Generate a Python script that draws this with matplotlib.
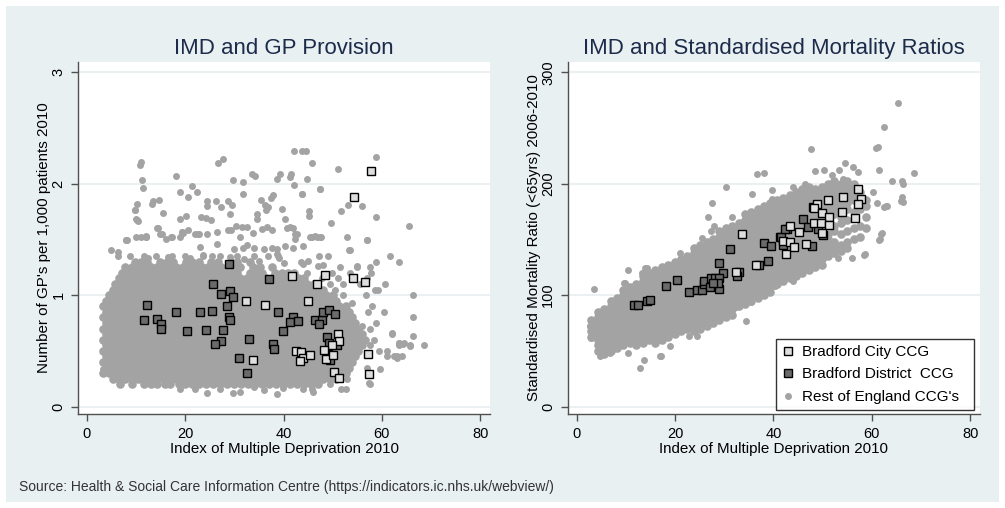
import matplotlib.pyplot as plt
from matplotlib import font_manager
from matplotlib.patches import Rectangle

# ---------------- data ----------------
# Left panel: IMD 2010 vs GPs per 1,000 patients
city_gp_x = [57.7, 54.3, 41.8, 48.4, 46.7, 54.1, 56.5, 32.3, 36.3, 44.9, 51.1, 51.3, 49.8,
             48.3, 42.6, 43.5, 44.0, 43.3, 45.4, 48.6, 50.0, 33.8, 50.3, 51.3, 57.2, 57.3]
city_gp_y = [2.11, 1.88, 1.17, 1.18, 1.10, 1.15, 1.12, 0.95, 0.91, 0.95, 0.65, 0.59, 0.55,
             0.51, 0.50, 0.49, 0.44, 0.41, 0.46, 0.43, 0.46, 0.42, 0.31, 0.26, 0.47, 0.29]
dist_gp_x = [28.9, 37.1, 25.7, 27.3, 29.0, 29.7, 12.2, 18.1, 22.9, 25.4, 28.4, 28.9, 29.0, 11.7,
             14.3, 15.1, 15.1, 20.3, 24.3, 27.7, 27.2, 26.0, 33.0, 38.8, 39.8, 37.9, 38.1, 31.0,
             32.6, 41.9, 41.4, 42.9, 46.3, 47.8, 47.2, 48.1, 49.2, 50.4, 48.9, 49.2, 50.9, 49.1, 49.4]
dist_gp_y = [1.28, 1.14, 1.10, 1.01, 1.04, 0.98, 0.91, 0.85, 0.85, 0.86, 0.90, 0.80, 0.78, 0.78,
             0.79, 0.74, 0.70, 0.68, 0.69, 0.69, 0.59, 0.56, 0.61, 0.85, 0.68, 0.56, 0.52, 0.44,
             0.30, 0.80, 0.76, 0.77, 0.78, 0.78, 0.74, 0.85, 0.87, 0.83, 0.62, 0.57, 0.55, 0.47, 0.42]

# rest of England: the dense core, row by row (GPs per 1,000, IMD values)
gp_rest_rows = [
    (0.20, "6.7 9.1 11.5 13 14.3 15.8 16.9 18.7 20 21.4 22.8 24.3 25.6 27.1 28.5 30 31.3 32.8 34.2 35.6 37.1 38.4 39.9 41.3 42.7 44.2 45.6 47.1"),
    (0.25, "5.2 6.5 7.8 9.1 10.4 11.7 13 14.3 15.6 16.9 18.2 19.5 20.8 22.1 23.4 24.7 26 27.3 28.6 29.9 31.2 32.5 33.8 35.1 36.4 37.7 39 40.3 41.6 42.9 44.2 45.5 46.8 48.1 49.4 50.7"),
    (0.30, "3.2 4.5 5.8 7.1 8.4 9.7 11 12.3 13.6 14.9 16.2 17.5 18.8 20.1 21.4 22.7 24 25.3 26.6 27.9 29.2 30.5 31.8 33.1 34.4 35.7 37 38.3 39.6 40.9 42.2 43.5 44.8 46.1 47.4 48.7 50 51.3 52.6"),
    (0.35, "3.9 5.2 6.5 7.8 9.1 10.4 11.7 13 14.3 15.6 16.9 18.2 19.5 20.8 22.1 23.4 24.7 26 27.3 28.6 29.9 31.2 32.5 33.8 35.1 36.4 37.7 39 40.3 41.6 42.9 44.2 45.5 46.8 48.1 49.4 50.7 52 53.3"),
    (0.40, "3.2 4.5 5.8 7.1 8.4 9.7 11 12.3 13.6 14.9 16.2 17.5 18.8 20.1 21.4 22.7 24 25.3 26.6 27.9 29.2 30.5 31.8 33.1 34.4 35.7 37 38.3 39.6 40.9 42.2 43.5 44.8 46.1 47.4 48.7 50 51.3 52.6 53.9"),
    (0.45, "3.9 5.2 6.5 7.8 9.1 10.4 11.7 13 14.3 15.6 16.9 18.2 19.5 20.8 22.1 23.4 24.7 26 27.3 28.6 29.9 31.2 32.5 33.8 35.1 36.4 37.7 39 40.3 41.6 42.9 44.2 45.5 46.8 48.1 49.4 50.7 52 53.3 54.6"),
    (0.50, "3.2 4.5 5.8 7.1 8.4 9.7 11 12.3 13.6 14.9 16.2 17.5 18.8 20.1 21.4 22.7 24 25.3 26.6 27.9 29.2 30.5 31.8 33.1 34.4 35.7 37 38.3 39.6 40.9 42.2 43.5 44.8 46.1 47.4 48.7 50 51.3 52.6 53.9 55.2"),
    (0.55, "3.9 5.2 6.5 7.8 9.1 10.4 11.7 13 14.3 15.6 16.9 18.2 19.5 20.8 22.1 23.4 24.7 26 27.3 28.6 29.9 31.2 32.5 33.8 35.1 36.4 37.7 39 40.3 41.6 42.9 44.2 45.5 46.8 48.1 49.4 50.7 52 53.3 54.6 55.9"),
    (0.60, "3.2 4.5 5.8 7.1 8.4 9.7 11 12.3 13.6 14.9 16.2 17.5 18.8 20.1 21.4 22.7 24 25.3 26.6 27.9 29.2 30.5 31.8 33.1 34.4 35.7 37 38.3 39.6 40.9 42.2 43.5 44.8 46.1 47.4 48.7 50 51.3 52.6 53.9 55.2 56.5"),
    (0.65, "3.9 5.2 6.5 7.8 9.1 10.4 11.7 13 14.3 15.6 16.9 18.2 19.5 20.8 22.1 23.4 24.7 26 27.3 28.6 29.9 31.2 32.5 33.8 35.1 36.4 37.7 39 40.3 41.6 42.9 44.2 45.5 46.8 48.1 49.4 50.7 52 53.3 54.6 55.9"),
    (0.70, "3.2 4.5 5.8 7.1 8.4 9.7 11 12.3 13.6 14.9 16.2 17.5 18.8 20.1 21.4 22.7 24 25.3 26.6 27.9 29.2 30.5 31.8 33.1 34.4 35.7 37 38.3 39.6 40.9 42.2 43.5 44.8 46.1 47.4 48.7 50 51.3 52.6 53.9 55.2"),
    (0.75, "3.9 5.2 6.5 7.8 9.1 10.4 11.7 13 14.3 15.6 16.9 18.2 19.5 20.8 22.1 23.4 24.7 26 27.3 28.6 29.9 31.2 32.5 33.8 35.1 36.4 37.7 39 40.3 41.6 42.9 44.2 45.5 46.8 48.1 49.4 50.7 52 53.3 54.6"),
    (0.80, "3.2 4.5 5.8 7.1 8.4 9.7 11 12.3 13.6 14.9 16.2 17.5 18.8 20.1 21.4 22.7 24 25.3 26.6 27.9 29.2 30.5 31.8 33.1 34.4 35.7 37 38.3 39.6 40.9 42.2 43.5 44.8 46.1 47.4 48.7 50 51.3 52.6 53.9"),
    (0.85, "3.9 5.2 6.5 7.8 9.1 10.4 11.7 13 14.3 15.6 16.9 18.2 19.5 20.8 22.1 23.4 24.7 26 27.3 28.6 29.9 31.2 32.5 33.8 35.1 36.4 37.7 39 40.3 41.6 42.9 44.2 45.5 46.8 48.1 49.4 50.7 52 53.3"),
    (0.90, "3.2 4.5 5.8 7.1 8.4 9.7 11 12.3 13.6 14.9 16.2 17.5 18.8 20.1 21.4 22.7 24 25.3 26.6 27.9 29.2 30.5 31.8 33.1 34.4 35.7 37 38.3 39.6 40.9 42.2 43.5 44.8 46.1 47.4 48.7 50 51.3 52.6"),
    (0.95, "3.9 5.2 6.5 7.8 9.1 10.4 11.7 13 14.3 15.6 16.9 18.2 19.5 20.8 22.1 23.4 24.7 26 27.3 28.6 29.9 31.2 32.5 33.8 35.1 36.4 37.7 39 40.3 41.6 42.9 44.2 45.5 46.8 48.1 49.4 50.7"),
    (1.00, "4.5 5.8 7.1 8.4 9.7 11 12.3 13.6 14.9 16.2 17.5 18.8 20.1 21.4 22.7 24 25.3 26.6 27.9 29.2 30.5 31.8 33.1 34.4 35.7 37 38.3 39.6 40.9 42.2 43.5 44.8 46.1 47.4 48.7 50"),
    (1.05, "5.2 6.5 7.8 9.1 10.4 11.7 13 14.3 15.6 16.9 18.2 19.5 20.8 22.1 23.4 24.7 26 27.3 28.6 29.9 31.2 32.5 33.8 35.1 36.4 37.7 39 40.3 41.6 42.9 44.2 45.5 46.8 48.1"),
    (1.10, "5.8 7.1 8.4 9.7 11 12.3 13.6 14.9 16.2 17.5 18.8 20.1 21.4 22.7 24 25.3 26.6 27.9 29.2 30.5 31.8 33.1 34.4 35.7 37 38.3 39.6 40.9 42.2 43.5 44.8 46.1"),
    (1.15, "6.5 7.8 9.1 10.4 11.7 13 14.3 15.6 16.9 18.2 19.5 20.8 22.1 23.4 24.7 26 27.3 28.6 29.9 31.2 32.5 33.8 35.1 36.4 37.7 39 40.3 41.6 42.9 44.2"),
    (1.20, "7.1 8.4 9.7 11 12.3 13.6 14.9 16.2 17.5 18.8 20.1 21.4 22.7 24 25.3 26.6 27.9 29.2 30.5 33.1 34.4 35.7 38.3 39.6 40.9 42.2"),
    (1.25, "7.8 9.1 10.4 11.7 13 14.3 15.6 16.9 18.2 19.5 20.8 22.1 23.4 24.7 26 27.3 28.6 29.9 31.2 33.8 35.1 37.7"),
    (1.30, "9.7 11 12.3 14.9 16.2 17.5 20.1 21.4 22.7 25.3 26.6 29.2 30.5 33.1"),
]
# rest of England: scattered practices round the core
gp_rest_extra_x = [10.7, 11.0, 11.2, 11.4, 10.1, 9.7, 10.0, 10.3, 8.0, 9.9, 11.0, 12.1, 13.3, 14.7,
                   15.5, 14.5, 14.9, 17.0, 18.1, 19.0, 21.3, 22.3, 20.6, 18.9, 20.1, 19.4, 20.6,
                   22.6, 23.2, 24.3, 25.3, 24.4, 24.4, 26.2, 27.2, 26.7, 27.7, 28.7, 29.5, 29.1,
                   29.7, 31.7, 31.7, 26.5, 28.7, 29.4, 30.3, 31.5, 32.5, 31.1, 33.6, 34.2, 34.5,
                   34.5, 33.8, 35.4, 36.2, 36.5, 37.4, 37.8, 36.9, 38.7, 39.6, 40.3, 40.6, 42.0,
                   42.3, 39.3, 41.3, 41.6, 42.1, 42.2, 43.7, 44.5, 45.7, 44.7, 43.7, 45.2, 45.2,
                   45.4, 46.4, 47.4, 44.0, 47.5, 49.6, 51.1, 51.7, 53.2, 55.9, 53.0, 57.0, 58.8,
                   58.8, 65.5, 4.8, 6.3, 8.0, 12.0, 16.0, 19.5, 22.0, 24.5, 53.5, 55.0, 57.0,
                   62.0, 63.4, 66.4, 64.6, 63.4, 64.3, 65.8, 61.0, 62.5, 63.1, 64.1, 59.7, 57.3,
                   3.3, 3.4, 4.6, 41.3, 42.7, 42.3, 45.7, 46.7, 47.6, 40.2, 42.0, 37.6, 38.6,
                   53.4, 26.5, 23.0, 23.7, 29.9, 31.8, 32.5, 33.9, 36.1, 38.6, 13.5, 14.3, 15.2,
                   17.2, 18.9, 19.3, 12.1, 8.1, 22.7, 10.2, 9.8, 35.6, 36.6, 37.6, 43.7, 47.4,
                   # lower and right fringe
                   24.4, 29.8, 31.1, 36.0, 38.6, 46.0, 19.0, 22.0, 27.0, 33.9, 39.9, 44.0, 45.7,
                   51.6, 52.6, 49.5, 57.5, 52.9, 57.0, 61.0, 63.1, 59.4, 57.5, 63.4, 65.8, 68.6,
                   58.3, 62.0, 57.6, 58.8, 66.4, 57.2, 60.5, 58.0, 56.8, 66.4, 52.0, 58.5, 59.3,
                   50.5, 49.5, 52.0, 55.5, 60.6, 47.8, 51.0, 57.0, 44.8, 49.8, 53.5, 57.8, 51.4,
                   55.0, 57.6, 58.9, 63.4, 6.4, 8.7, 11.5, 14.0, 17.2, 19.9, 23.7, 27.0, 30.5,
                   34.0, 36.9, 38.9, 47.3, 49.1, 61.7, 12.5, 16.5, 21.0, 25.5, 29.0, 32.0, 35.0,
                   40.0, 44.0, 48.0, 45.0, 39.0, 43.5, 47.0, 54.0, 50.5, 56.0]
gp_rest_extra_y = [2.17, 2.19, 2.03, 1.96, 1.82, 1.76, 1.68, 1.66, 1.49, 1.52, 1.52, 1.52, 1.82, 1.85,
                   1.74, 1.60, 1.55, 1.52, 2.07, 1.92, 1.98, 1.92, 1.88, 1.68, 1.71, 1.57, 1.58,
                   1.55, 1.70, 1.69, 1.67, 1.84, 1.80, 1.84, 1.79, 2.18, 2.22, 1.84, 1.81, 1.73,
                   2.03, 2.01, 1.91, 1.57, 1.58, 1.58, 1.62, 1.61, 1.61, 1.52, 2.09, 2.07, 1.73,
                   1.68, 1.56, 1.85, 1.81, 1.76, 1.87, 1.90, 1.79, 2.04, 1.77, 1.68, 1.60, 1.60,
                   1.55, 2.09, 2.06, 2.09, 1.99, 2.29, 2.29, 2.29, 2.18, 2.04, 1.91, 1.75, 1.71,
                   1.52, 1.53, 1.52, 1.44, 1.95, 1.65, 2.13, 1.75, 1.81, 1.80, 1.52, 1.49, 2.24,
                   1.70, 1.62, 1.40, 1.39, 1.49, 1.53, 1.50, 1.56, 1.55, 1.55, 1.40, 1.26, 1.49,
                   0.66, 0.57, 0.63, 0.57, 0.57, 0.56, 0.54, 0.50, 0.45, 0.44, 0.45, 0.34, 0.21,
                   0.34, 0.39, 0.39, 1.61, 1.55, 1.50, 1.52, 1.52, 1.52, 1.44, 1.42, 1.42, 1.37,
                   1.40, 1.46, 1.43, 1.36, 1.41, 1.42, 1.45, 1.42, 1.41, 1.41, 1.84, 1.60, 1.55,
                   1.52, 1.52, 1.57, 1.52, 1.49, 1.55, 1.67, 1.76, 1.59, 1.61, 1.58, 1.91, 1.95,
                   # lower and right fringe
                   0.12, 0.12, 0.13, 0.15, 0.11, 0.13, 0.16, 0.16, 0.16, 0.18, 0.17, 0.16, 0.16,
                   0.16, 0.16, 0.20, 0.20, 0.25, 0.35, 0.45, 0.45, 0.50, 0.55, 0.55, 0.55, 0.55,
                   0.60, 0.65, 0.70, 0.75, 0.80, 0.85, 0.85, 0.90, 1.00, 1.00, 1.00, 1.05, 1.05,
                   1.05, 1.10, 1.10, 1.10, 1.10, 1.15, 1.15, 1.15, 1.20, 1.20, 1.20, 1.20, 1.25,
                   1.25, 1.25, 1.30, 1.30, 1.35, 1.35, 1.35, 1.35, 1.35, 1.35, 1.35, 1.35, 1.35,
                   1.35, 1.35, 1.35, 1.35, 1.35, 1.35, 1.33, 1.34, 1.33, 1.35, 1.34, 1.32, 1.31,
                   1.29, 1.28, 1.27, 1.31, 1.33, 1.30, 1.26, 0.93, 0.96, 0.72]

# Right panel: IMD 2010 vs SMR (<65yrs) 2006-2010
city_smr_x = [57.2, 54.2, 57.8, 57.2, 51.1, 48.8, 48.3, 49.9, 53.9, 56.5, 48.3, 51.2, 49.7, 51.3,
              43.4, 45.3, 49.9, 41.9, 43.4, 46.7, 44.1, 42.6, 36.4, 32.3, 33.7]
city_smr_y = [195, 188, 186, 182, 185, 182, 178, 174, 175, 169, 165, 170, 165, 163,
              162, 157, 156, 149, 148, 146, 143, 137, 127, 121, 155]
dist_smr_x = [46.1, 47.1, 42.7, 49.0, 41.4, 50.0, 38.0, 39.6, 31.2, 47.9, 41.6, 42.0, 38.8, 29.0,
              37.0, 29.7, 32.9, 32.6, 20.3, 18.2, 22.9, 24.4, 25.4, 25.8, 25.9, 27.3, 28.1, 29.0,
              27.1, 29.0, 28.7, 27.8, 11.7, 12.4, 14.2, 15.0, 48.1, 42.4]
dist_smr_y = [168, 161, 159, 159, 152, 154, 147, 144, 141, 144, 152, 145, 131, 128.5,
              127, 120, 121, 117, 113.5, 108, 103, 105, 105, 109.6, 112.6, 115, 115.6, 115.6,
              107, 105.7, 110.5, 111, 91.6, 91.6, 95.2, 96.1, 179, 159]

# rest of England: the dense band, column by column (IMD, SMR values)
smr_rest_cols = [
    (3.0, "62.5 67.5 72.5 77.5"),
    (4.3, "50 55 60 65 70 75 80 85"),
    (5.6, "47.5 52.5 57.5 62.5 67.5 72.5 77.5 82.5 87.5"),
    (6.9, "50 55 60 65 70 75 80 85 90 95"),
    (8.2, "52.5 57.5 62.5 67.5 72.5 77.5 82.5 87.5 92.5 97.5"),
    (9.5, "55 60 65 70 75 80 85 90 95 100 105"),
    (10.8, "57.5 62.5 67.5 72.5 77.5 82.5 87.5 92.5 97.5 102.5 107.5"),
    (12.1, "55 60 65 70 75 80 85 90 95 100 105 110"),
    (13.4, "57.5 62.5 67.5 72.5 77.5 82.5 87.5 92.5 97.5 102.5 107.5 112.5 117.5"),
    (14.7, "60 65 70 75 80 85 90 95 100 105 110 115 120"),
    (16.0, "57.5 62.5 67.5 72.5 77.5 82.5 87.5 92.5 97.5 102.5 107.5 112.5 117.5 122.5"),
    (17.3, "60 65 70 75 80 85 90 95 100 105 110 115 120 125"),
    (18.6, "62.5 67.5 72.5 77.5 82.5 87.5 92.5 97.5 102.5 107.5 112.5 117.5 122.5 127.5"),
    (19.9, "65 70 75 80 85 90 95 100 105 110 115 120 125 130"),
    (21.2, "67.5 72.5 77.5 82.5 87.5 92.5 97.5 102.5 107.5 112.5 117.5 122.5 127.5 132.5"),
    (22.5, "70 75 80 85 90 95 100 105 110 115 120 125 130 135"),
    (23.8, "67.5 72.5 77.5 82.5 87.5 92.5 97.5 102.5 107.5 112.5 117.5 122.5 127.5 132.5 137.5 142.5"),
    (25.1, "70 75 80 85 90 95 100 105 110 115 120 125 130 135 140 145"),
    (26.4, "72.5 77.5 82.5 87.5 92.5 97.5 102.5 107.5 112.5 117.5 122.5 127.5 132.5 137.5 142.5 147.5"),
    (27.7, "75 80 85 90 95 100 105 110 115 120 125 130 135 140 145 150"),
    (29.0, "77.5 82.5 87.5 92.5 97.5 102.5 107.5 112.5 117.5 122.5 127.5 132.5 137.5 142.5 147.5 152.5 157.5"),
    (30.3, "80 85 90 95 100 105 110 115 120 125 130 135 140 145 150 155 160"),
    (31.6, "82.5 87.5 92.5 97.5 102.5 107.5 112.5 117.5 122.5 127.5 132.5 137.5 142.5 147.5 152.5 157.5 162.5"),
    (32.9, "90 95 100 105 110 115 120 125 130 135 140 145 150 155 160 165"),
    (34.2, "92.5 97.5 102.5 107.5 112.5 117.5 122.5 127.5 132.5 137.5 142.5 147.5 152.5 157.5 162.5 167.5 172.5"),
    (35.5, "95 100 105 110 115 120 125 130 135 140 145 150 155 160 165 170 175"),
    (36.8, "97.5 102.5 107.5 112.5 117.5 122.5 127.5 132.5 137.5 142.5 147.5 152.5 157.5 162.5 167.5 172.5 177.5"),
    (38.1, "100 105 110 115 120 125 130 135 140 145 150 155 160 165 170 175 180"),
    (39.4, "102.5 107.5 112.5 117.5 122.5 127.5 132.5 137.5 142.5 147.5 152.5 157.5 162.5 167.5 172.5 177.5 182.5"),
    (40.7, "110 115 120 125 130 135 140 145 150 155 160 165 170 175 180 185"),
    (42.0, "112.5 117.5 122.5 127.5 132.5 137.5 142.5 147.5 152.5 157.5 162.5 167.5 172.5 177.5 182.5 187.5"),
    (43.3, "115 120 125 130 135 140 145 150 155 160 165 170 175 180 185 190"),
    (44.6, "117.5 122.5 127.5 132.5 137.5 142.5 147.5 152.5 157.5 162.5 167.5 172.5 177.5 182.5 187.5 192.5"),
    (45.9, "120 125 130 135 140 145 150 155 160 165 170 175 180 185 190 195"),
    (47.2, "122.5 127.5 132.5 137.5 142.5 147.5 152.5 157.5 162.5 167.5 172.5 177.5 182.5 187.5 192.5 197.5"),
    (48.5, "125 130 135 140 145 150 155 160 165 170 175 180 185 190 195"),
    (49.8, "127.5 132.5 137.5 142.5 147.5 152.5 157.5 162.5 167.5 172.5 177.5 182.5 187.5 192.5 197.5"),
    (51.1, "135 140 145 150 155 165 170 175 180 185 190 195 200"),
    (52.4, "137.5 142.5 147.5 157.5 162.5 172.5 177.5 182.5 187.5 192.5 197.5 202.5"),
    (53.7, "140 145 155 165 170 180 185 190 195 200"),
    (55.0, "142.5 147.5 157.5 167.5 177.5 182.5 187.5 192.5 197.5 202.5"),
    (56.3, "150 160 175 185 190 195 200"),
    (57.6, "152.5 162.5 177.5 187.5 192.5"),
    (58.9, "160 170 180 185"),
]
smr_rest_extra_x = [65.4, 62.5, 61.2, 61.5, 64.1, 66.1, 66.4, 68.6, 66.1, 66.4, 63.0, 62.4, 47.7,
                    36.6, 38.0, 30.4, 27.6, 35.7, 39.7, 39.7, 54.6, 51.5, 54.2, 60.3, 61.0, 26.6,
                    25.4, 27.3, 27.5, 25.0, 48.4, 50.2, 53.4, 56.1, 57.1, 60.8, 62.8, 65.9, 58.4,
                    55.9, 61.5, 61.8, 3.6, 10.4, 9.8, 13.8, 10.5, 4.7, 6.8, 12.9, 13.7, 17.2, 16.9,
                    24.4, 22.9, 19.0, 32.4, 34.4, 35.4, 29.8, 61.7, 62.0, 58.6, 53.2, 49.5, 45.8,
                    43.9, 40.3, 2.7, 3.0, 14.2, 13.2, 9.6, 21.0, 28.0, 31.5, 44.0, 46.5, 52.0]
smr_rest_extra_y = [272.7, 250.8, 233.3, 212.3, 202.7, 202.7, 199.7, 209.6, 187.7, 184.0, 180.0,
                    178.7, 231.0, 208.7, 209.6, 196.7, 182.6, 191.0, 194.0, 186.0, 219.0, 196.7,
                    204.0, 193.0, 183.0, 169.7, 151.6, 157.7, 148.6, 142.6, 211.7, 212.3, 212.3,
                    215.0, 210.5, 231.8, 179.6, 184.7, 136.0, 133.0, 149.6, 155.0, 105.7, 123.0,
                    110.5, 124.0, 48.0, 45.0, 48.0, 34.5, 41.4, 45.6, 45.5, 63.0, 63.0, 54.0,
                    89.5, 76.6, 93.7, 80.0, 150.0, 155.6, 136.6, 133.6, 129.0, 120.0, 112.6,
                    108.0, 72.0, 62.0, 124.0, 120.0, 111.0, 138.0, 162.0, 170.0, 197.0, 200.0, 208.0]

x_ticks = [0, 20, 40, 60, 80]
gp_ticks = [0, 1, 2, 3]
smr_ticks = [0, 100, 200, 300]

# unpack the row/column strings into point lists
gp_core_x, gp_core_y = [], []
for yv, xs in gp_rest_rows:
    for v in xs.split():
        gp_core_x.append(float(v))
        gp_core_y.append(yv)

smr_core_x, smr_core_y = [], []
for xv, ys in smr_rest_cols:
    for v in ys.split():
        smr_core_x.append(xv)
        smr_core_y.append(float(v))

# ---------------- styling ----------------
plt.rcParams['font.family'] = ['Liberation Sans', 'DejaVu Sans']
BG = '#e9f0f2'
GREY = '#a3a3a3'
CITY = '#dedede'
DIST = '#6a6a6a'
TITLE = '#1c2b4a'
AXIS = '#505050'

fig = plt.figure(figsize=(10.05, 5.08), dpi=100, facecolor='white')
fig.patches.append(Rectangle((0.006, 0.012), 0.988, 0.976, transform=fig.transFigure,
                             facecolor=BG, edgecolor='none', zorder=-10))

ax1 = fig.add_axes([78 / 1005, 1 - 414 / 508, 412 / 1005, 352 / 508])
ax2 = fig.add_axes([567.7 / 1005, 1 - 414 / 508, 412.3 / 1005, 352 / 508])


def style_axes(ax, yticks, ylim, ylabel, title):
    ax.set_facecolor('white')
    ax.set_xlim(-1.83, 82.0)
    ax.set_ylim(*ylim)
    ax.set_xticks(x_ticks)
    ax.set_yticks(yticks)
    ax.set_yticklabels([str(t) for t in yticks], rotation=90, va='center')
    ax.tick_params(axis='both', length=5, width=1, color=AXIS, labelsize=10.5, pad=4)
    for s in ['top', 'right']:
        ax.spines[s].set_visible(False)
    for s in ['left', 'bottom']:
        ax.spines[s].set_color(AXIS)
        ax.spines[s].set_linewidth(1)
    ax.yaxis.grid(True, color='#e8eff1', lw=1.2)
    ax.set_axisbelow(True)
    ax.set_xlabel('Index of Multiple Deprivation 2010', fontsize=10.9, labelpad=1)
    ax.set_ylabel(ylabel, fontsize=10.9, labelpad=0)
    ax.set_title(title, fontsize=16, color=TITLE, pad=6)


mk = dict(linestyle='none')
ax1.plot(gp_core_x, gp_core_y, marker='o', ms=6.2, mfc=GREY, mec='none', **mk)
ax1.plot(gp_rest_extra_x, gp_rest_extra_y, marker='o', ms=5.0, mfc=GREY, mec='none', **mk)
ax1.plot(dist_gp_x, dist_gp_y, marker='s', ms=5.6, mfc=DIST, mec='black', mew=1.0, **mk)
ax1.plot(city_gp_x, city_gp_y, marker='s', ms=5.6, mfc=CITY, mec='black', mew=1.0, **mk)
style_axes(ax1, gp_ticks, (-0.066, 3.09), "Number of GP's per 1,000 patients 2010",
           'IMD and GP Provision')

ax2.plot(smr_core_x, smr_core_y, marker='o', ms=6.2, mfc=GREY, mec='none', **mk)
h_rest, = ax2.plot(smr_rest_extra_x, smr_rest_extra_y, marker='o', ms=5.0, mfc=GREY, mec='none', **mk)
h_dist, = ax2.plot(dist_smr_x, dist_smr_y, marker='s', ms=5.6, mfc=DIST, mec='black', mew=1.0, **mk)
h_city, = ax2.plot(city_smr_x, city_smr_y, marker='s', ms=5.6, mfc=CITY, mec='black', mew=1.0, **mk)
style_axes(ax2, smr_ticks, (-6.6, 309.2), 'Standardised Mortality Ratio (<65yrs) 2006-2010',
           'IMD and Standardised Mortality Ratios')

# legend box stretched to the width used in the original
leg = ax2.legend([h_city, h_dist, h_rest],
                 ['Bradford City CCG', 'Bradford District  CCG', "Rest of England CCG's"],
                 loc='lower left', bbox_to_anchor=(0.5052, 0.0114, 0.4802, 0.2), mode='expand',
                 borderaxespad=0, fontsize=11, frameon=True, fancybox=False, handlelength=0.8,
                 handletextpad=0.5, labelspacing=0.55, borderpad=0.4)
leg.get_frame().set_edgecolor('black')
leg.get_frame().set_linewidth(1)

# source note
names = {f.name for f in font_manager.fontManager.ttflist}
src_font = 'Liberation Sans Narrow' if 'Liberation Sans Narrow' in names else 'Liberation Sans'
fig.text(19 / 1005, 1 - 487 / 508,
         'Source: Health & Social Care Information Centre (https://indicators.ic.nhs.uk/webview/)',
         fontsize=11.3 if src_font != 'Liberation Sans' else 10.0, family=src_font,
         color='#333333', va='center', ha='left')

fig.savefig('out.png', dpi=100, facecolor='white')
